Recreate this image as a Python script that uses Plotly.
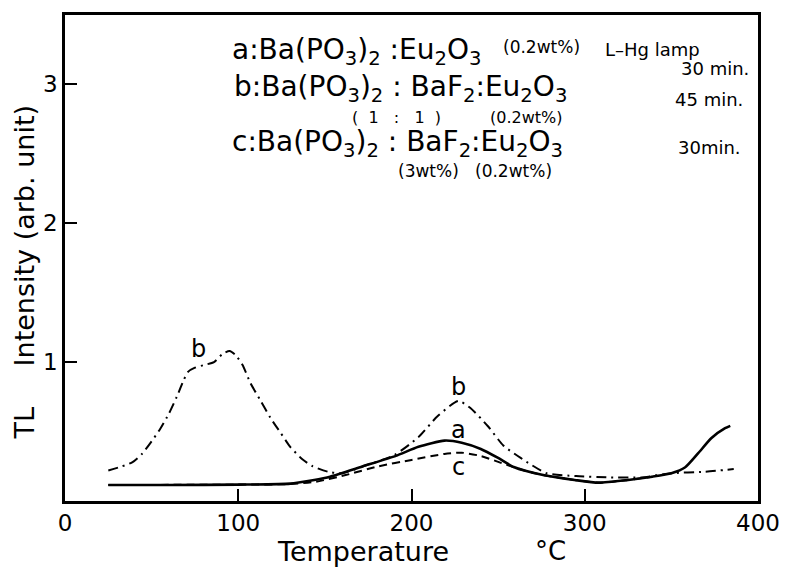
import plotly.graph_objects as go

# ---- data ----
a_x = [25, 60, 100, 130, 143, 153, 172, 191, 204, 219, 229, 240, 250, 259, 276, 295, 308, 324, 339, 350, 358, 365.5, 373, 381, 384]
a_y = [0.115, 0.115, 0.118, 0.125, 0.15, 0.175, 0.25, 0.325, 0.39, 0.435, 0.42, 0.375, 0.31, 0.245, 0.187, 0.15, 0.132, 0.15, 0.175, 0.2, 0.243, 0.344, 0.452, 0.524, 0.541]

b_x = [25, 33, 39, 44.5, 50, 55, 60, 64.5, 68.5, 71, 75, 80.5, 86, 91, 95, 98.5, 102.5, 107, 113, 118.5, 124.5, 130, 137, 143, 152, 160, 172, 190, 204, 215, 227, 234, 244, 253, 263, 278, 295, 314, 333, 350, 369, 386]
b_y = [0.22, 0.25, 0.28, 0.34, 0.43, 0.52, 0.63, 0.75, 0.87, 0.93, 0.96, 0.98, 1.00, 1.06, 1.08, 1.05, 0.98, 0.85, 0.72, 0.60, 0.49, 0.39, 0.30, 0.25, 0.21, 0.20, 0.25, 0.33, 0.46, 0.61, 0.72, 0.67, 0.54, 0.40, 0.31, 0.20, 0.18, 0.17, 0.17, 0.20, 0.21, 0.23]

c_x = [25, 100, 130, 145, 162, 181, 200, 219, 229, 240, 255, 265, 276, 295, 308, 324, 339]
c_y = [0.115, 0.118, 0.122, 0.139, 0.187, 0.25, 0.296, 0.339, 0.348, 0.324, 0.26, 0.22, 0.187, 0.15, 0.132, 0.15, 0.175]

x_ticks = [0, 100, 200, 300, 400]
y_ticks = [1, 2, 3]

FONT = "DejaVu Sans"
W, H = 792, 569
L, R, T, B = 65, 26, 15, 68
PW, PH = W - L - R, H - T - B


def px(xp):
    return (xp - L) / PW


def py(yp):
    return (H - B - yp) / PH


fig = go.Figure()
fig.add_trace(go.Scatter(x=a_x, y=a_y, mode="lines", line=dict(color="black", width=2.6, shape="spline", smoothing=0.6), showlegend=False))
fig.add_trace(go.Scatter(x=b_x, y=b_y, mode="lines", line=dict(color="black", width=2, dash="10px,5px,2px,5px", shape="spline", smoothing=0.6), showlegend=False))
fig.add_trace(go.Scatter(x=c_x, y=c_y, mode="lines", line=dict(color="black", width=2, dash="8px,5px", shape="spline", smoothing=0.6), showlegend=False))

ann = []


def note(xp, yp, text, size, xanchor="left", yanchor="middle", angle=0):
    ann.append(dict(x=px(xp), y=py(yp), xref="paper", yref="paper", text=text, showarrow=False,
                    xanchor=xanchor, yanchor=yanchor, textangle=angle, borderpad=0,
                    font=dict(family=FONT, size=size, color="black")))


# curve labels
note(200, 349, "b", 24, "center")
note(463, 387, "b", 24, "center")
note(463, 430, "a", 24, "center")
note(463, 467, "c", 24, "center")

# legend-like text block
note(233, 51, "a:Ba(PO<sub>3</sub>)<sub>2</sub> :Eu<sub>2</sub>O<sub>3</sub>", 28)
note(507, 47, "(0.2wt%)", 17)
note(610, 49, "L\u2013Hg lamp", 18)
note(758, 68, "30 min.", 18, "right")
note(235, 88, "b:Ba(PO<sub>3</sub>)<sub>2</sub> : BaF<sub>2</sub>:Eu<sub>2</sub>O<sub>3</sub>", 28)
note(752, 99, "45 min.", 18, "right")
note(400, 118, "(  1   :   1  )", 16, "center")
note(532, 118, "(0.2wt%)", 16, "center")
note(233, 143, "c:Ba(PO<sub>3</sub>)<sub>2</sub> : BaF<sub>2</sub>:Eu<sub>2</sub>O<sub>3</sub>", 28)
note(750, 147, "30min.", 18, "right")
note(433, 171, "(3wt%)", 17, "center")
note(519, 171, "(0.2wt%)", 17, "center")

# axis titles
note(366, 551, "Temperature", 27, "center")
note(556, 551, "\u00b0C", 26, "center")
note(24, 272, "TL\u2003\u2002Intensity (arb. unit)", 27, "center", "middle", -90)

fig.update_layout(
    width=W, height=H,
    margin=dict(l=L, r=R, t=T, b=B),
    paper_bgcolor="white", plot_bgcolor="white",
    annotations=ann,
    showlegend=False,
)
fig.update_xaxes(range=[0, 400], tickvals=x_ticks, ticktext=[str(v) for v in x_ticks],
                 ticks="inside", ticklen=12, tickwidth=2, tickcolor="black",
                 showline=True, linewidth=2.5, linecolor="black", mirror=True,
                 showgrid=False, zeroline=False,
                 tickfont=dict(family=FONT, size=23, color="black"))
fig.update_yaxes(range=[0, 3.5], tickvals=y_ticks, ticktext=[str(v) for v in y_ticks],
                 ticks="inside", ticklen=12, tickwidth=2, tickcolor="black",
                 showline=True, linewidth=2.5, linecolor="black", mirror=True,
                 showgrid=False, zeroline=False,
                 tickfont=dict(family=FONT, size=23, color="black"))

fig.write_html("out.html")
